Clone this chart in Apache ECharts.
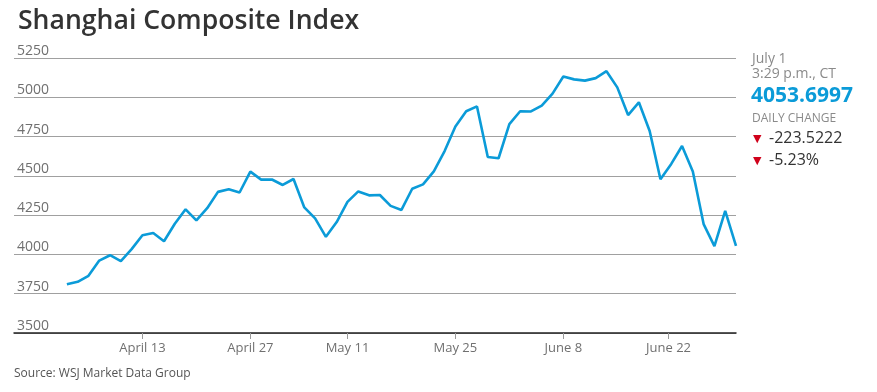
<!DOCTYPE html>
<html>
<head>
<meta charset="utf-8">
<script src="https://cdn.jsdelivr.net/npm/echarts@6/dist/echarts.min.js"></script>
<style>
html,body{margin:0;padding:0;background:#fff;}
#chart{width:877px;height:392px;}
</style>
</head>
<body>
<div id="chart"></div>
<script>
var categories = ['2015-04-01','2015-04-02','2015-04-03','2015-04-07','2015-04-08','2015-04-09','2015-04-10',
'2015-04-13','2015-04-14','2015-04-15','2015-04-16','2015-04-17','2015-04-20','2015-04-21','2015-04-22','2015-04-23','2015-04-24',
'2015-04-27','2015-04-28','2015-04-29','2015-04-30','2015-05-04','2015-05-05','2015-05-06','2015-05-07','2015-05-08',
'2015-05-11','2015-05-12','2015-05-13','2015-05-14','2015-05-15','2015-05-18','2015-05-19','2015-05-20','2015-05-21','2015-05-22',
'2015-05-25','2015-05-26','2015-05-27','2015-05-28','2015-05-29','2015-06-01','2015-06-02','2015-06-03','2015-06-04','2015-06-05',
'2015-06-08','2015-06-09','2015-06-10','2015-06-11','2015-06-12','2015-06-15','2015-06-16','2015-06-17','2015-06-18','2015-06-19',
'2015-06-23','2015-06-24','2015-06-25','2015-06-26','2015-06-29','2015-06-30','2015-07-01'];
var closeValues = [3810, 3826, 3864, 3961, 3995, 3958, 4034,
4122, 4136, 4084, 4195, 4287, 4217, 4294, 4398, 4415, 4394,
4527, 4476, 4477, 4442, 4480, 4299, 4229, 4112, 4206,
4334, 4401, 4376, 4378, 4309, 4283, 4418, 4446, 4529, 4658,
4814, 4911, 4942, 4620, 4612, 4829, 4911, 4910, 4947, 5023,
5132, 5114, 5106, 5122, 5166, 5063, 4887, 4968, 4785, 4478,
4576, 4690, 4528, 4193, 4053, 4277, 4054];
var tickDates = ['2015-04-13','2015-04-27','2015-05-11','2015-05-25','2015-06-08','2015-06-22'];
var tickLabels = ['April 13','April 27','May 11','May 25','June 8','June 22'];
var yTicks = [3500, 3750, 4000, 4250, 4500, 4750, 5000, 5250];

function dayNum(s){ return Date.parse(s + 'T00:00:00Z') / 86400000; }
function datePos(s){
  var d = dayNum(s);
  for (var i = 0; i < categories.length; i++) {
    var c = dayNum(categories[i]);
    if (c === d) return i;
    if (c > d && i > 0) {
      var p = dayNum(categories[i-1]);
      return i - 1 + (d - p) / (c - p);
    }
  }
  return categories.length - 1;
}
var tickPos = tickDates.map(datePos);
var seriesData = closeValues.map(function(v, i){ return [i, v]; });

var chart = echarts.init(document.getElementById('chart'));
var FONT = '"Open Sans", sans-serif';
chart.setOption({
  animation: false,
  title: {
    text: 'Shanghai Composite Index',
    left: 13, top: 3,
    textStyle: {fontFamily: FONT, fontWeight: 600, fontSize: 26.6, color: '#333'}
  },
  grid: {left: 14, right: 141, top: 58, bottom: 59},
  xAxis: {
    type: 'value',
    min: -4.9, max: 62,
    axisLine: {show: true, lineStyle: {color: '#222', width: 1.5}},
    axisTick: {show: true, customValues: tickPos, length: 6, lineStyle: {color: '#999'}},
    axisLabel: {
      customValues: tickPos,
      margin: 9,
      fontFamily: FONT, fontSize: 13, color: '#707070',
      formatter: function(v){
        var k = -1, best = 1e9;
        tickPos.forEach(function(p, j){ if (Math.abs(p - v) < best) { best = Math.abs(p - v); k = j; } });
        return tickLabels[k];
      }
    },
    splitLine: {show: false}
  },
  yAxis: {
    type: 'value',
    min: yTicks[0], max: yTicks[yTicks.length - 1], interval: 250,
    axisLine: {show: false},
    axisTick: {show: false},
    axisLabel: {inside: true, margin: 3, verticalAlign: 'bottom', align: 'left', padding: [0,0,0,0],
      fontFamily: FONT, fontSize: 14, color: '#707070',
      formatter: function(v){ return String(v); }},
    splitLine: {show: true, lineStyle: {color: '#a0a0a0', width: 1}}
  },
  series: [{
    type: 'line',
    data: seriesData,
    showSymbol: false,
    symbol: 'none',
    lineStyle: {color: '#0b9bd8', width: 2.6},
    z: 3
  }],
  graphic: [
    {type: 'text', left: 752, top: 52, style: {text: 'July 1', fontFamily: FONT, fontSize: 14, fill: '#8a8a8a'}},
    {type: 'text', left: 752, top: 67, style: {text: '3:29 p.m., CT', fontFamily: FONT, fontSize: 14, fill: '#8a8a8a'}},
    {type: 'text', left: 751, top: 86, style: {text: '4053.6997', fontFamily: FONT, fontWeight: 'bold', fontSize: 21, fill: '#0b9bd8'}},
    {type: 'text', left: 752, top: 113, style: {text: 'DAILY CHANGE', fontFamily: FONT, fontSize: 12, fill: '#8a8a8a'}},
    {type: 'text', left: 753, top: 134, style: {text: '\u25BC', fontFamily: 'DejaVu Sans', fontSize: 11, fill: '#d0021b'}},
    {type: 'text', left: 769, top: 130, style: {text: '-223.5222', fontFamily: FONT, fontSize: 16, fill: '#333'}},
    {type: 'text', left: 753, top: 156, style: {text: '\u25BC', fontFamily: 'DejaVu Sans', fontSize: 11, fill: '#d0021b'}},
    {type: 'text', left: 769, top: 152, style: {text: '-5.23%', fontFamily: FONT, fontSize: 16, fill: '#333'}},
    {type: 'text', left: 14, top: 368, style: {text: 'Source: WSJ Market Data Group', fontFamily: FONT, fontSize: 12, fill: '#555'}}
  ]
});
</script>
</body>
</html>
